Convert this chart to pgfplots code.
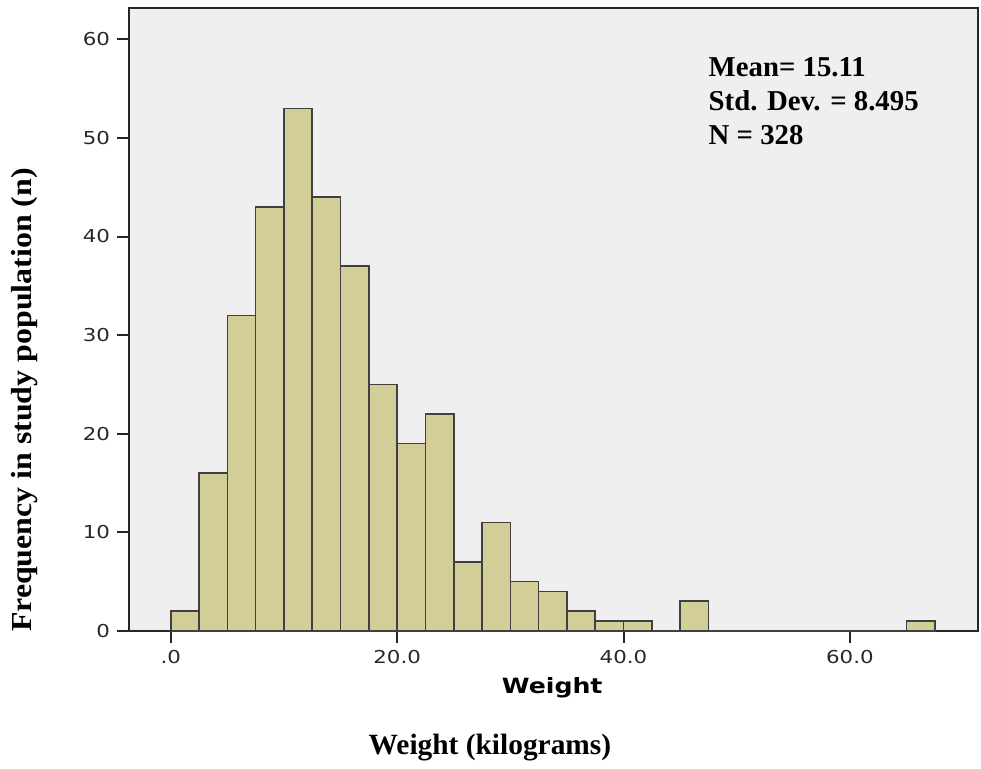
\documentclass[border=0pt]{standalone}
\usepackage{fontspec}
\setmainfont{Liberation Serif}
\newfontfamily\dejavu{DejaVu Sans}[FakeStretch=1.2]
\newfontfamily\serifw{Liberation Serif}[FakeStretch=1.1]
\usepackage{pgfplots}
\pgfplotsset{compat=1.18}
\definecolor{barfill}{RGB}{211,206,152}
\definecolor{bgc}{RGB}{239,239,239}
\definecolor{ticktext}{RGB}{40,40,40}
\begin{document}
\begin{tikzpicture}
\begin{axis}[
  scale only axis,
  width=424.5pt, height=311.5pt,
  xmin=-3.68, xmax=71.3,
  ymin=0, ymax=63.2,
  axis background/.style={fill=bgc},
  axis line style={draw=black!85, line width=1pt},
  clip=false,
  xtick={0,20,40,60},
  xticklabels={.0,20.0,40.0,60.0},
  ytick={0,10,20,30,40,50,60},
  yticklabels={0,10,20,30,40,50,60},
  xtick pos=bottom, ytick pos=left,
  tick align=outside,
  major tick length=6pt,
  x tick style={line width=1pt, black!85},
  y tick style={line width=1pt, black!85},
  tick label style={font=\dejavu\fontsize{8.9}{10}\selectfont, text=ticktext},
  yticklabel style={xshift=0pt},
]
\addplot[ybar interval, fill=barfill, draw=black!75, line width=0.8pt] coordinates {
(0,2) (2.5,16) (5,32) (7.5,43) (10,53) (12.5,44) (15,37) (17.5,25) (20,19) (22.5,22)
(25,7) (27.5,11) (30,5) (32.5,4) (35,2) (37.5,1) (40,1) (42.5,0) (45,3) (47.5,0)
(50,0) (52.5,0) (55,0) (57.5,0) (60,0) (62.5,0) (65,1) (67.5,1)
};
\path (axis cs:-15.08,64.0) rectangle (axis cs:71.58,-13.79);
\node[anchor=base west, align=left, font=\bfseries\fontsize{14.4}{17}\selectfont] at (axis cs:46.9,49.3) {Mean= 15.11\\Std. Dev. = 8.495\\N = 328};
\node[font=\dejavu\bfseries\fontsize{10.5}{12}\selectfont] at (axis cs:33.7,-5.8) {Weight};
\node[font=\bfseries\fontsize{14.7}{16}\selectfont] at (axis cs:28.2,-11.9) {Weight (kilograms)};
\node[rotate=90, font=\serifw\bfseries\fontsize{14.5}{16}\selectfont] at (axis cs:-12.9,23.4) {Frequency in study population (n)};
\end{axis}
\end{tikzpicture}
\end{document}
